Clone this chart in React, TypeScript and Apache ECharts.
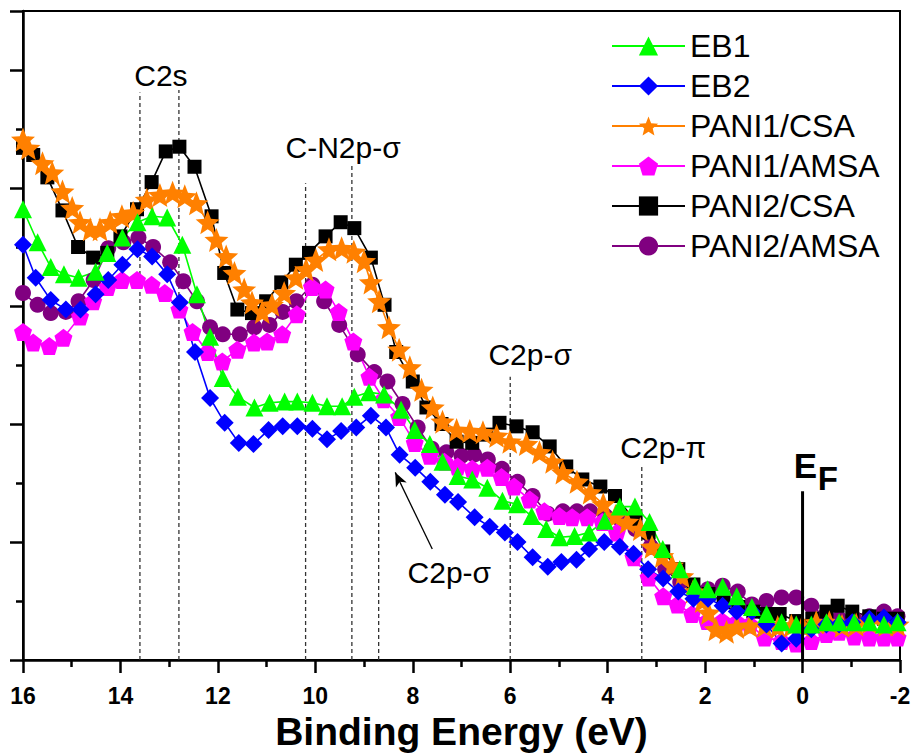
import React, { useEffect, useRef } from "react";
import * as echarts from "echarts";

// Binding energy (eV) vs intensity (a.u.)
const EB1: number[][] = [[16,3.82],[15.7,3.54],[15.43,3.33],[15.16,3.27],[14.86,3.24],[14.51,3.29],[14.27,3.45],[13.96,3.58],[13.65,3.71],[13.35,3.76],[13.04,3.75],[12.73,3.52],[12.43,3.10],[12.16,2.74],[11.9,2.39],[11.59,2.23],[11.25,2.14],[10.94,2.18],[10.63,2.19],[10.37,2.19],[10.06,2.18],[9.76,2.15],[9.45,2.15],[9.2,2.23],[8.9,2.27],[8.59,2.25],[8.24,2.12],[7.96,1.95],[7.65,1.83],[7.39,1.68],[7.08,1.56],[6.78,1.53],[6.47,1.46],[6.16,1.35],[5.86,1.32],[5.56,1.22],[5.26,1.11],[4.99,1.04],[4.68,1.05],[4.38,1.08],[4.06,1.18],[3.75,1.30],[3.44,1.30],[3.14,1.17],[2.87,0.94],[2.52,0.77],[2.21,0.63],[1.95,0.60],[1.64,0.62],[1.35,0.54],[1.04,0.45],[0.74,0.39],[0.43,0.32],[0.13,0.30],[-0.18,0.30],[-0.49,0.32],[-0.75,0.32],[-1.06,0.32],[-1.37,0.32],[-1.67,0.30],[-1.95,0.32]];

const EB2: number[][] = [[16,3.52],[15.74,3.24],[15.43,3.05],[15.12,2.97],[14.82,2.97],[14.51,3.10],[14.25,3.22],[13.96,3.35],[13.65,3.48],[13.35,3.42],[13.04,3.27],[12.78,3.03],[12.47,2.61],[12.16,2.22],[11.86,2.01],[11.57,1.84],[11.27,1.83],[10.96,1.95],[10.67,1.98],[10.37,1.98],[10.06,1.96],[9.76,1.87],[9.47,1.94],[9.16,1.97],[8.86,2.07],[8.55,1.97],[8.27,1.74],[7.95,1.63],[7.64,1.51],[7.34,1.40],[7.07,1.34],[6.73,1.21],[6.42,1.13],[6.11,1.08],[5.85,1.00],[5.54,0.87],[5.23,0.79],[4.95,0.83],[4.64,0.85],[4.38,0.94],[4.07,1.00],[3.75,0.96],[3.47,0.90],[3.17,0.77],[2.86,0.69],[2.55,0.58],[2.24,0.52],[1.94,0.52],[1.64,0.46],[1.35,0.41],[1.04,0.41],[0.74,0.30],[0.43,0.14],[0.13,0.18],[-0.18,0.26],[-0.49,0.30],[-0.75,0.30],[-1.02,0.32],[-1.37,0.35],[-1.67,0.36],[-1.95,0.32]];

const PANI1_CSA: number[][] = [[16,4.41],[15.89,4.34],[15.6,4.21],[15.4,4.13],[15.19,3.97],[14.99,3.83],[14.83,3.71],[14.62,3.65],[14.42,3.65],[14.21,3.71],[13.97,3.76],[13.74,3.79],[13.46,3.90],[13.19,3.94],[12.93,3.96],[12.68,3.93],[12.44,3.87],[12.21,3.71],[12.03,3.56],[11.83,3.42],[11.66,3.28],[11.46,3.14],[11.3,3.03],[11.09,2.95],[10.89,3.01],[10.64,3.11],[10.4,3.24],[10.19,3.31],[9.99,3.39],[9.72,3.48],[9.46,3.49],[9.21,3.46],[9.0,3.38],[8.86,3.20],[8.69,3.04],[8.49,2.82],[8.28,2.63],[8.06,2.48],[7.82,2.29],[7.59,2.14],[7.39,2.02],[7.1,1.95],[6.83,1.94],[6.56,1.93],[6.28,1.90],[6.01,1.85],[5.67,1.83],[5.4,1.76],[5.13,1.68],[4.92,1.59],[4.63,1.51],[4.36,1.42],[4.09,1.32],[3.84,1.22],[3.6,1.17],[3.33,1.11],[3.09,0.96],[2.88,0.88],[2.68,0.80],[2.47,0.71],[2.25,0.58],[2.06,0.50],[1.93,0.40],[1.78,0.26],[1.56,0.24],[1.35,0.28],[1.08,0.29],[0.78,0.29],[0.51,0.28],[0.23,0.29],[0.0,0.29],[-0.28,0.32],[-0.55,0.32],[-0.81,0.29],[-1.1,0.30],[-1.37,0.32],[-1.71,0.30],[-1.95,0.30]];

const PANI1_AMSA: number[][] = [[16,2.78],[15.79,2.69],[15.46,2.66],[15.17,2.73],[14.83,2.91],[14.56,3.04],[14.26,3.16],[13.97,3.22],[13.66,3.22],[13.36,3.18],[13.09,3.11],[12.79,2.97],[12.52,2.78],[12.21,2.61],[11.91,2.53],[11.6,2.63],[11.26,2.69],[10.99,2.70],[10.68,2.76],[10.38,2.93],[10.07,3.16],[9.79,3.14],[9.52,2.95],[9.22,2.70],[8.89,2.40],[8.6,2.21],[8.28,2.06],[7.96,1.84],[7.65,1.73],[7.35,1.68],[7.08,1.64],[6.78,1.62],[6.47,1.63],[6.18,1.55],[5.92,1.47],[5.6,1.36],[5.3,1.26],[4.99,1.22],[4.73,1.21],[4.42,1.21],[4.11,1.17],[3.81,1.08],[3.47,0.87],[3.16,0.70],[2.86,0.54],[2.57,0.47],[2.27,0.39],[1.96,0.33],[1.65,0.33],[1.35,0.32],[1.08,0.30],[0.78,0.19],[0.43,0.16],[0.13,0.14],[-0.18,0.16],[-0.49,0.22],[-0.75,0.24],[-1.06,0.20],[-1.37,0.19],[-1.67,0.19],[-1.95,0.19]];

const PANI2_CSA: number[][] = [[16,4.34],[15.79,4.28],[15.5,4.09],[15.19,3.81],[14.87,3.50],[14.56,3.41],[14.27,3.45],[14.0,3.59],[13.66,3.82],[13.36,4.05],[13.07,4.31],[12.79,4.35],[12.48,4.18],[12.13,3.76],[11.87,3.28],[11.6,2.97],[11.3,2.94],[11.01,3.04],[10.7,3.20],[10.4,3.35],[10.13,3.45],[9.79,3.59],[9.48,3.71],[9.2,3.66],[8.86,3.41],[8.58,3.01],[8.34,2.61],[8.0,2.36],[7.72,2.14],[7.41,2.0],[7.1,1.85],[6.78,1.84],[6.49,1.91],[6.22,2.01],[5.87,1.98],[5.54,1.93],[5.19,1.81],[4.85,1.64],[4.52,1.53],[4.15,1.47],[3.85,1.39],[3.43,1.18],[3.16,1.08],[2.86,0.92],[2.55,0.77],[2.24,0.64],[1.93,0.56],[1.62,0.49],[1.32,0.45],[1.01,0.41],[0.73,0.39],[0.47,0.39],[0.13,0.33],[-0.2,0.35],[-0.49,0.41],[-0.72,0.46],[-1.02,0.41],[-1.37,0.37],[-1.67,0.35],[-1.95,0.35]];

const PANI2_AMSA: number[][] = [[16,3.11],[15.7,3.01],[15.43,2.94],[15.12,2.95],[14.86,3.04],[14.55,3.22],[14.25,3.49],[13.94,3.54],[13.63,3.58],[13.33,3.50],[12.98,3.37],[12.71,3.21],[12.43,3.04],[12.16,2.82],[11.9,2.76],[11.55,2.76],[11.25,2.82],[10.94,2.84],[10.67,2.95],[10.39,3.04],[10.06,3.18],[9.82,3.04],[9.51,2.84],[9.13,2.59],[8.79,2.44],[8.52,2.36],[8.21,2.17],[7.9,1.97],[7.61,1.79],[7.31,1.76],[7.0,1.73],[6.74,1.74],[6.46,1.70],[6.17,1.62],[5.85,1.51],[5.54,1.39],[5.23,1.24],[4.92,1.26],[4.63,1.26],[4.36,1.26],[4.05,1.22],[3.74,1.19],[3.43,1.11],[3.12,0.96],[2.82,0.77],[2.51,0.66],[2.2,0.58],[1.94,0.60],[1.64,0.63],[1.33,0.58],[1.04,0.47],[0.74,0.50],[0.43,0.53],[0.13,0.53],[-0.18,0.46],[-0.45,0.37],[-0.75,0.35],[-1.06,0.35],[-1.37,0.37],[-1.67,0.41],[-1.95,0.37]];

// Peak guide lines: [energy, top of line]
const GUIDE_LINES: number[][] = [[13.6,4.81],[12.8,4.83],[10.2,4.04],[9.25,4.2],[8.7,2.0],[6.0,2.4],[3.3,1.64]];
const FERMI_LINE: number[][] = [[0,0],[0,1.43]];
const ARROW: number[][] = [[7.6,0.94],[8.36,1.59]];

// Annotation labels: [text, energy, intensity, align]
const LABELS: [string, number, number, string][] = [
  ["C2s", 13.17, 4.95, "center"],
  ["C-N2p-σ", 9.43, 4.34, "center"],
  ["C2p-σ", 5.59, 2.59, "center"],
  ["C2p-σ", 7.25, 0.745, "center"],
  ["C2p-π", 2.86, 1.8, "center"],
];

const X_MIN = -2, X_MAX = 16, X_STEP = 2;
const Y_MIN = 0, Y_MAX = 5.5, Y_STEP = 1;

const STAR = "path://M50 0 L62.93 32.2 L97.55 34.55 L70.92 56.8 L79.39 90.45 L50 72 L20.61 90.45 L29.08 56.8 L2.45 34.55 L37.07 32.2 Z";
const PENTAGON = "path://M50 0 L97.55 34.55 L79.39 90.45 L20.61 90.45 L2.45 34.55 Z";

const SERIES_DEF = [
  { name: "EB1", data: EB1, color: "#00ff00", symbol: "triangle", size: 18 },
  { name: "EB2", data: EB2, color: "#0000ff", symbol: "diamond", size: 18 },
  { name: "PANI1/CSA", data: PANI1_CSA, color: "#ff8000", symbol: STAR, size: 24 },
  { name: "PANI1/AMSA", data: PANI1_AMSA, color: "#ff00ff", symbol: PENTAGON, size: 18 },
  { name: "PANI2/CSA", data: PANI2_CSA, color: "#000000", symbol: "rect", size: 14 },
  { name: "PANI2/AMSA", data: PANI2_AMSA, color: "#800080", symbol: "circle", size: 16 },
];

const FONT = "'Liberation Sans', Arial, Helvetica, sans-serif";

export default function App() {
  const ref = useRef<HTMLDivElement>(null);
  useEffect(() => {
    if (!ref.current) return;
    const chart = echarts.init(ref.current, undefined, { renderer: "svg" });
    const dataSeries = SERIES_DEF.slice().reverse().map((s) => ({
      type: "line",
      name: s.name,
      data: s.data,
      symbol: s.symbol,
      symbolSize: s.size,
      showAllSymbol: true,
      color: s.color,
      itemStyle: { color: s.color },
      lineStyle: { color: s.color, width: 1.6 },
      z: 3,
    }));
    const guideSeries = GUIDE_LINES.map((g, i) => ({
      type: "line",
      name: "guide" + i,
      data: [[g[0], Y_MIN], [g[0], g[1]]],
      symbol: "none",
      silent: true,
      z: 1,
      lineStyle: { color: "#333", width: 1.3, type: [4, 3] },
    }));
    const option: any = {
      animation: false,
      backgroundColor: "#fff",
      grid: { left: 23, right: 22, top: 11, bottom: 95, show: true, borderColor: "#000", borderWidth: 2 },
      legend: {
        data: SERIES_DEF.map((s) => s.name),
        orient: "vertical",
        left: 606,
        top: 25,
        itemWidth: 73,
        itemHeight: 24,
        itemGap: 8,
        textStyle: { fontSize: 32, fontFamily: FONT, color: "#000" },
        selectedMode: false,
      },
      xAxis: {
        type: "value",
        inverse: true,
        min: X_MIN,
        max: X_MAX,
        interval: X_STEP,
        name: "Binding Energy (eV)",
        nameLocation: "middle",
        nameGap: 52,
        nameTextStyle: { fontSize: 39, fontWeight: "bold", fontFamily: FONT, color: "#000" },
        axisLine: { onZero: false, lineStyle: { color: "#000", width: 2.5 } },
        axisTick: { inside: false, length: 13, lineStyle: { width: 2.5, color: "#000" } },
        minorTick: { show: true, splitNumber: 2, length: 7, lineStyle: { width: 2.5, color: "#000" } },
        axisLabel: { fontSize: 23, fontWeight: "bold", fontFamily: FONT, color: "#000", margin: 24 },
        splitLine: { show: false },
      },
      yAxis: {
        type: "value",
        min: Y_MIN,
        max: Y_MAX,
        interval: Y_STEP,
        axisLine: { show: true, onZero: false, lineStyle: { color: "#000", width: 2.5 } },
        axisTick: { show: true, inside: false, length: 13, lineStyle: { width: 2.5, color: "#000" } },
        minorTick: { show: true, splitNumber: 2, length: 7, lineStyle: { width: 2.5, color: "#000" } },
        axisLabel: { show: false },
        splitLine: { show: false },
      },
      series: [
        ...guideSeries,
        {
          type: "line",
          name: "EF",
          data: FERMI_LINE,
          symbol: "none",
          silent: true,
          z: 4,
          lineStyle: { color: "#000", width: 3 },
        },
        {
          type: "line",
          name: "arrow",
          data: [],
          silent: true,
          markLine: {
            silent: true,
            symbol: ["none", "arrow"],
            symbolSize: [9, 14],
            label: { show: false },
            lineStyle: { color: "#000", width: 1.3, type: "solid" },
            data: [[{ coord: ARROW[0] }, { coord: ARROW[1] }]],
          },
        },
        ...dataSeries,
      ],
    };
    chart.setOption(option);
    const graphics: any[] = LABELS.map(([text, e, v, align]) => {
      const [x, y] = chart.convertToPixel({ gridIndex: 0 }, [e, v]) as number[];
      return {
        type: "text",
        x,
        y,
        z: 10,
        style: { text, fontSize: 30, fontFamily: FONT, fill: "#000", align, verticalAlign: "middle" },
      };
    });
    const [ex, ey] = chart.convertToPixel({ gridIndex: 0 }, [0.18, 1.646]) as number[];
    const [fx, fy] = chart.convertToPixel({ gridIndex: 0 }, [-0.31, 1.536]) as number[];
    graphics.push({ type: "text", x: ex, y: ey, z: 10, style: { text: "E", fontSize: 35, fontWeight: "bold", fontFamily: FONT, fill: "#000", align: "left", verticalAlign: "middle" } });
    graphics.push({ type: "text", x: fx, y: fy, z: 10, style: { text: "F", fontSize: 33, fontWeight: "bold", fontFamily: FONT, fill: "#000", align: "left", verticalAlign: "middle" } });
    chart.setOption({ graphic: graphics });
    return () => chart.dispose();
  }, []);
  return <div ref={ref} style={{ position: "fixed", left: 0, top: 0, width: 922, height: 756, background: "#fff" }} />;
}
